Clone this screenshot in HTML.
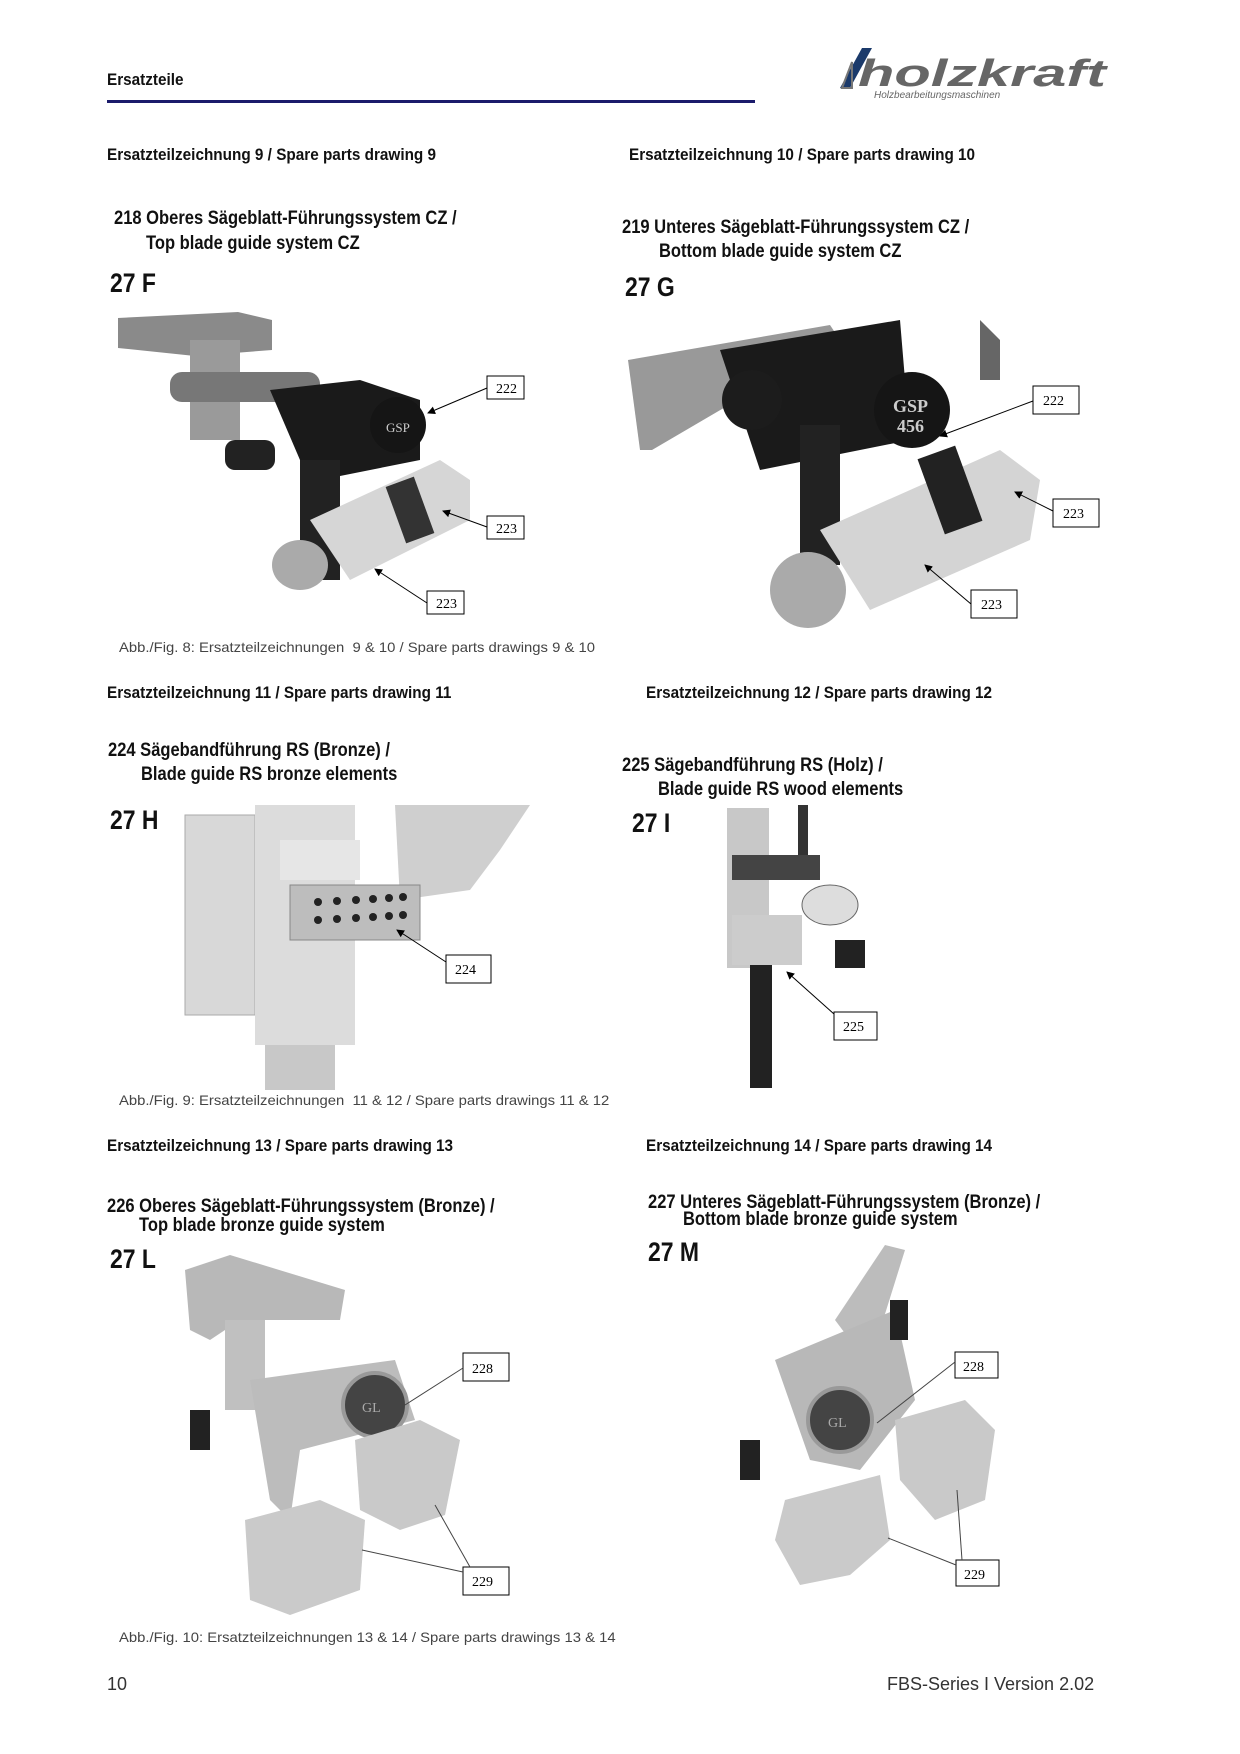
<!DOCTYPE html>
<html><head><meta charset="utf-8">
<style>
html,body{margin:0;padding:0;background:#fff}
#p{position:relative;width:1240px;height:1754px;overflow:hidden;font-family:"Liberation Sans",sans-serif;color:#111}
.t{position:absolute;white-space:nowrap;font-weight:bold;line-height:1;transform-origin:0 0}
.h{font-size:17px;transform:scaleX(0.9)}
.ti{font-size:19px;transform:scaleX(0.87)}
.big{font-size:27px;transform:scaleX(0.85)}
.cap{position:absolute;white-space:nowrap;font-family:"Liberation Sans",sans-serif;font-size:14px;color:#444;line-height:1;transform-origin:0 0;transform:scaleX(1.06)}
.ft{position:absolute;white-space:nowrap;font-size:18px;color:#333;line-height:1}
svg{position:absolute;left:0;top:0}
.lb{font-family:"Liberation Serif",serif;font-size:14px}
</style></head><body><div id="p">
<div class="t h" style="left:107px;top:71px">Ersatzteile</div>
<div style="position:absolute;left:107px;top:100px;width:648px;height:3px;background:#1b1b6b"></div>

<div class="t h" style="left:107px;top:146px">Ersatzteilzeichnung 9 / Spare parts drawing 9</div>
<div class="t h" style="left:629px;top:146px">Ersatzteilzeichnung 10 / Spare parts drawing 10</div>
<div class="t ti" style="left:114px;top:209px">218 Oberes Sägeblatt-Führungssystem CZ /</div>
<div class="t ti" style="left:146px;top:234px">Top blade guide system CZ</div>
<div class="t ti" style="left:622px;top:218px">219 Unteres Sägeblatt-Führungssystem CZ /</div>
<div class="t ti" style="left:659px;top:242px">Bottom blade guide system CZ</div>
<div class="t big" style="left:110px;top:270px">27 F</div>
<div class="t big" style="left:625px;top:274px">27 G</div>
<div class="cap" style="left:119px;top:640px">Abb./Fig. 8: Ersatzteilzeichnungen &nbsp;9 &amp; 10 / Spare parts drawings 9 &amp; 10</div>

<div class="t h" style="left:107px;top:684px">Ersatzteilzeichnung 11 / Spare parts drawing 11</div>
<div class="t h" style="left:646px;top:684px">Ersatzteilzeichnung 12 / Spare parts drawing 12</div>
<div class="t ti" style="left:108px;top:741px">224 Sägebandführung RS (Bronze) /</div>
<div class="t ti" style="left:141px;top:765px">Blade guide RS bronze elements</div>
<div class="t ti" style="left:622px;top:756px">225 Sägebandführung RS (Holz) /</div>
<div class="t ti" style="left:658px;top:780px">Blade guide RS wood elements</div>
<div class="t big" style="left:110px;top:807px">27 H</div>
<div class="t big" style="left:632px;top:810px">27 I</div>
<div class="cap" style="left:119px;top:1093px">Abb./Fig. 9: Ersatzteilzeichnungen &nbsp;11 &amp; 12 / Spare parts drawings 11 &amp; 12</div>

<div class="t h" style="left:107px;top:1137px">Ersatzteilzeichnung 13 / Spare parts drawing 13</div>
<div class="t h" style="left:646px;top:1137px">Ersatzteilzeichnung 14 / Spare parts drawing 14</div>
<div class="t ti" style="left:107px;top:1197px">226 Oberes Sägeblatt-Führungssystem (Bronze) /</div>
<div class="t ti" style="left:139px;top:1216px">Top blade bronze guide system</div>
<div class="t ti" style="left:648px;top:1193px">227 Unteres Sägeblatt-Führungssystem (Bronze) /</div>
<div class="t ti" style="left:683px;top:1210px">Bottom blade bronze guide system</div>
<div class="t big" style="left:110px;top:1246px">27 L</div>
<div class="t big" style="left:648px;top:1239px">27 M</div>
<div class="cap" style="left:119px;top:1630px">Abb./Fig. 10: Ersatzteilzeichnungen 13 &amp; 14 / Spare parts drawings 13 &amp; 14</div>

<div class="ft" style="left:107px;top:1675px">10</div>
<div class="ft" style="left:887px;top:1675px">FBS-Series I Version 2.02</div>

<svg width="1240" height="1754" viewBox="0 0 1240 1754">
<defs><marker id="a" markerWidth="8" markerHeight="8" refX="7" refY="4" orient="auto"><path d="M0,0 L8,4 L0,8z" fill="#000"/></marker></defs>
<g>
<polygon points="840,88 862,48 872,48 850,88" fill="#1b3a6b"/>
<polygon points="842,88 852,62 852,88" fill="none" stroke="#777" stroke-width="2"/>
<text x="858" y="86" font-family="Liberation Sans" font-weight="bold" font-style="italic" font-size="38" fill="#666" textLength="248" lengthAdjust="spacingAndGlyphs">holzkraft</text>
<text x="874" y="98" font-family="Liberation Sans" font-style="italic" font-size="10" fill="#666">Holzbearbeitungsmaschinen</text>
</g>
<g>
<polygon points="118,318 238,312 272,320 272,350 195,356 118,348" fill="#8a8a8a"/>
<rect x="190" y="340" width="50" height="100" fill="#9a9a9a"/>
<rect x="170" y="372" width="150" height="30" rx="12" fill="#777"/>
<path d="M270,390 L360,380 L420,400 L420,460 L320,480 L300,460 Z" fill="#1a1a1a"/>
<circle cx="398" cy="425" r="28" fill="#151515"/>
<text x="386" y="432" font-family="Liberation Serif" font-size="13" fill="#ccc">GSP</text>
<rect x="300" y="460" width="40" height="120" fill="#222"/>
<polygon points="310,520 440,460 470,480 470,520 350,580" fill="#d6d6d6"/>
<rect x="395" y="480" width="30" height="60" fill="#333" transform="rotate(-20 410 510)"/>
<ellipse cx="300" cy="565" rx="28" ry="25" fill="#aaa"/>
<rect x="225" y="440" width="50" height="30" rx="10" fill="#222"/>
</g>
<g fill="#fff" stroke="#000" stroke-width="1">
<rect x="487" y="376" width="37" height="23"/><rect x="487" y="516" width="37" height="23"/><rect x="427" y="591" width="37" height="23"/>
</g>
<g stroke="#000" stroke-width="1" marker-end="url(#a)">
<line x1="487" y1="388" x2="428" y2="413"/><line x1="487" y1="527" x2="443" y2="511"/><line x1="427" y1="603" x2="375" y2="569"/>
</g>
<g class="lb"><text x="496" y="393">222</text><text x="496" y="533">223</text><text x="436" y="608">223</text></g>
<g>
<polygon points="628,360 830,325 840,340 652,450 640,450" fill="#999"/>
<path d="M720,350 L900,320 L910,440 L760,470 Z" fill="#1a1a1a"/>
<ellipse cx="752" cy="400" rx="30" ry="30" fill="#1c1c1c"/>
<circle cx="912" cy="410" r="38" fill="#151515"/>
<text x="893" y="412" font-family="Liberation Serif" font-weight="bold" font-size="18" fill="#ccc">GSP</text>
<text x="897" y="432" font-family="Liberation Serif" font-weight="bold" font-size="18" fill="#ccc">456</text>
<rect x="800" y="425" width="40" height="140" fill="#222"/>
<polygon points="820,530 1000,450 1040,480 1030,540 870,610" fill="#d4d4d4"/>
<rect x="930" y="450" width="40" height="80" fill="#222" transform="rotate(-20 950 490)"/>
<ellipse cx="808" cy="590" rx="38" ry="38" fill="#aaa"/>
<polygon points="980,320 1000,340 1000,380 980,380" fill="#666"/>
</g>
<g fill="#fff" stroke="#000" stroke-width="1">
<rect x="1033" y="386" width="46" height="28"/><rect x="1053" y="499" width="46" height="28"/><rect x="971" y="590" width="46" height="28"/>
</g>
<g stroke="#000" stroke-width="1" marker-end="url(#a)">
<line x1="1033" y1="401" x2="940" y2="436"/><line x1="1053" y1="511" x2="1015" y2="492"/><line x1="971" y1="604" x2="925" y2="565"/>
</g>
<g class="lb"><text x="1043" y="405">222</text><text x="1063" y="518">223</text><text x="981" y="609">223</text></g>
<g>
<path d="M395,805 L530,805 L500,850 L470,890 L400,900 Z" fill="#cfcfcf"/>
<rect x="185" y="815" width="70" height="200" fill="#d8d8d8" stroke="#aaa"/>
<rect x="255" y="805" width="100" height="240" fill="#dcdcdc"/>
<rect x="280" y="840" width="80" height="40" fill="#e6e6e6"/>
<rect x="290" y="885" width="130" height="55" fill="#bdbdbd" stroke="#888"/>
<g fill="#222"><circle cx="318" cy="902" r="4"/><circle cx="337" cy="901" r="4"/><circle cx="356" cy="900" r="4"/><circle cx="373" cy="899" r="4"/><circle cx="389" cy="898" r="4"/><circle cx="403" cy="897" r="4"/><circle cx="318" cy="920" r="4"/><circle cx="337" cy="919" r="4"/><circle cx="356" cy="918" r="4"/><circle cx="373" cy="917" r="4"/><circle cx="389" cy="916" r="4"/><circle cx="403" cy="915" r="4"/></g>
<rect x="265" y="1045" width="70" height="45" fill="#c8c8c8"/>
</g>
<rect x="446" y="955" width="45" height="28" fill="#fff" stroke="#000"/>
<line x1="446" y1="962" x2="397" y2="930" stroke="#000" marker-end="url(#a)"/>
<text x="455" y="974" class="lb">224</text>
<g>
<rect x="727" y="808" width="42" height="160" fill="#c8c8c8"/>
<rect x="798" y="805" width="10" height="70" fill="#333"/>
<rect x="732" y="855" width="88" height="25" fill="#444"/>
<ellipse cx="830" cy="905" rx="28" ry="20" fill="#ddd" stroke="#666"/>
<rect x="732" y="915" width="70" height="50" fill="#ccc"/>
<rect x="835" y="940" width="30" height="28" fill="#222"/>
<rect x="750" y="965" width="22" height="123" fill="#222"/>
</g>
<rect x="834" y="1012" width="43" height="28" fill="#fff" stroke="#000"/>
<line x1="834" y1="1014" x2="787" y2="972" stroke="#000" marker-end="url(#a)"/>
<text x="843" y="1031" class="lb">225</text>
<g>
<path d="M185,1270 L230,1255 L345,1290 L340,1320 L240,1320 L210,1340 L190,1330 Z" fill="#b8b8b8"/>
<rect x="225" y="1320" width="40" height="90" fill="#c0c0c0"/>
<path d="M250,1380 L395,1360 L415,1420 L300,1450 L290,1520 L270,1500 Z" fill="#bcbcbc"/>
<circle cx="375" cy="1405" r="32" fill="#444" stroke="#999" stroke-width="4"/>
<text x="362" y="1412" font-family="Liberation Serif" font-size="14" fill="#aaa">GL</text>
<polygon points="355,1440 420,1420 460,1440 445,1515 400,1530 360,1510" fill="#c9c9c9"/>
<polygon points="245,1520 320,1500 365,1520 360,1590 290,1615 250,1600" fill="#cacaca"/>
<rect x="190" y="1410" width="20" height="40" fill="#222"/>
</g>
<g fill="#fff" stroke="#000"><rect x="463" y="1353" width="46" height="28"/><rect x="463" y="1567" width="46" height="28"/></g>
<g stroke="#444"><line x1="463" y1="1368" x2="405" y2="1405"/><line x1="463" y1="1572" x2="362" y2="1550"/><line x1="470" y1="1567" x2="435" y2="1505"/></g>
<g class="lb"><text x="472" y="1373">228</text><text x="472" y="1586">229</text></g>
<g>
<path d="M885,1245 L905,1250 L880,1330 L850,1340 L835,1320 Z" fill="#bcbcbc"/>
<path d="M775,1360 L895,1310 L915,1400 L860,1470 L810,1460 Z" fill="#b8b8b8"/>
<circle cx="840" cy="1420" r="32" fill="#444" stroke="#999" stroke-width="4"/>
<text x="828" y="1427" font-family="Liberation Serif" font-size="14" fill="#aaa">GL</text>
<polygon points="895,1420 965,1400 995,1430 985,1500 935,1520 900,1480" fill="#c9c9c9"/>
<polygon points="785,1500 880,1475 890,1540 850,1575 800,1585 775,1540" fill="#cacaca"/>
<rect x="740" y="1440" width="20" height="40" fill="#222"/>
<rect x="890" y="1300" width="18" height="40" fill="#222"/>
</g>
<g fill="#fff" stroke="#000"><rect x="955" y="1352" width="43" height="26"/><rect x="956" y="1560" width="43" height="26"/></g>
<g stroke="#444"><line x1="955" y1="1362" x2="877" y2="1423"/><line x1="956" y1="1565" x2="888" y2="1538"/><line x1="962" y1="1560" x2="957" y2="1490"/></g>
<g class="lb"><text x="963" y="1371">228</text><text x="964" y="1579">229</text></g>
</svg>
</div></body></html>
